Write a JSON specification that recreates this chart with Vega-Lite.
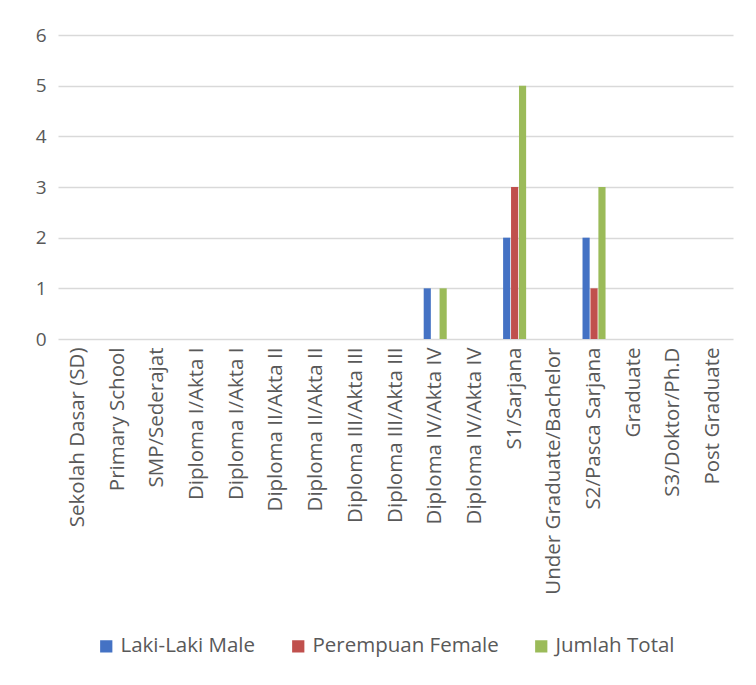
{
  "$schema": "https://vega.github.io/schema/vega-lite/v6.json",
  "autosize": "none",
  "width": 675,
  "height": 304,
  "padding": {"left": 58, "top": 35, "right": 23, "bottom": 346},
  "background": "white",
  "data": {
    "values": [
      {"cat": "Sekolah Dasar (SD)", "series": "Laki-Laki Male", "value": 0},
      {"cat": "Sekolah Dasar (SD)", "series": "Perempuan Female", "value": 0},
      {"cat": "Sekolah Dasar (SD)", "series": "Jumlah Total", "value": 0},
      {"cat": "Primary School", "series": "Laki-Laki Male", "value": 0},
      {"cat": "Primary School", "series": "Perempuan Female", "value": 0},
      {"cat": "Primary School", "series": "Jumlah Total", "value": 0},
      {"cat": "SMP/Sederajat", "series": "Laki-Laki Male", "value": 0},
      {"cat": "SMP/Sederajat", "series": "Perempuan Female", "value": 0},
      {"cat": "SMP/Sederajat", "series": "Jumlah Total", "value": 0},
      {"cat": "Diploma I/Akta I", "series": "Laki-Laki Male", "value": 0},
      {"cat": "Diploma I/Akta I", "series": "Perempuan Female", "value": 0},
      {"cat": "Diploma I/Akta I", "series": "Jumlah Total", "value": 0},
      {"cat": "Diploma I/Akta I ", "series": "Laki-Laki Male", "value": 0},
      {"cat": "Diploma I/Akta I ", "series": "Perempuan Female", "value": 0},
      {"cat": "Diploma I/Akta I ", "series": "Jumlah Total", "value": 0},
      {"cat": "Diploma II/Akta II", "series": "Laki-Laki Male", "value": 0},
      {"cat": "Diploma II/Akta II", "series": "Perempuan Female", "value": 0},
      {"cat": "Diploma II/Akta II", "series": "Jumlah Total", "value": 0},
      {"cat": "Diploma II/Akta II ", "series": "Laki-Laki Male", "value": 0},
      {"cat": "Diploma II/Akta II ", "series": "Perempuan Female", "value": 0},
      {"cat": "Diploma II/Akta II ", "series": "Jumlah Total", "value": 0},
      {"cat": "Diploma III/Akta III", "series": "Laki-Laki Male", "value": 0},
      {"cat": "Diploma III/Akta III", "series": "Perempuan Female", "value": 0},
      {"cat": "Diploma III/Akta III", "series": "Jumlah Total", "value": 0},
      {"cat": "Diploma III/Akta III ", "series": "Laki-Laki Male", "value": 0},
      {"cat": "Diploma III/Akta III ", "series": "Perempuan Female", "value": 0},
      {"cat": "Diploma III/Akta III ", "series": "Jumlah Total", "value": 0},
      {"cat": "Diploma IV/Akta IV", "series": "Laki-Laki Male", "value": 1},
      {"cat": "Diploma IV/Akta IV", "series": "Perempuan Female", "value": 0},
      {"cat": "Diploma IV/Akta IV", "series": "Jumlah Total", "value": 1},
      {"cat": "Diploma IV/Akta IV ", "series": "Laki-Laki Male", "value": 0},
      {"cat": "Diploma IV/Akta IV ", "series": "Perempuan Female", "value": 0},
      {"cat": "Diploma IV/Akta IV ", "series": "Jumlah Total", "value": 0},
      {"cat": "S1/Sarjana", "series": "Laki-Laki Male", "value": 2},
      {"cat": "S1/Sarjana", "series": "Perempuan Female", "value": 3},
      {"cat": "S1/Sarjana", "series": "Jumlah Total", "value": 5},
      {"cat": "Under Graduate/Bachelor", "series": "Laki-Laki Male", "value": 0},
      {"cat": "Under Graduate/Bachelor", "series": "Perempuan Female", "value": 0},
      {"cat": "Under Graduate/Bachelor", "series": "Jumlah Total", "value": 0},
      {"cat": "S2/Pasca Sarjana", "series": "Laki-Laki Male", "value": 2},
      {"cat": "S2/Pasca Sarjana", "series": "Perempuan Female", "value": 1},
      {"cat": "S2/Pasca Sarjana", "series": "Jumlah Total", "value": 3},
      {"cat": "Graduate", "series": "Laki-Laki Male", "value": 0},
      {"cat": "Graduate", "series": "Perempuan Female", "value": 0},
      {"cat": "Graduate", "series": "Jumlah Total", "value": 0},
      {"cat": "S3/Doktor/Ph.D", "series": "Laki-Laki Male", "value": 0},
      {"cat": "S3/Doktor/Ph.D", "series": "Perempuan Female", "value": 0},
      {"cat": "S3/Doktor/Ph.D", "series": "Jumlah Total", "value": 0},
      {"cat": "Post Graduate", "series": "Laki-Laki Male", "value": 0},
      {"cat": "Post Graduate", "series": "Perempuan Female", "value": 0},
      {"cat": "Post Graduate", "series": "Jumlah Total", "value": 0}
    ]
  },
  "mark": {"type": "bar"},
  "encoding": {
    "x": {
      "field": "cat",
      "type": "nominal",
      "sort": null,
      "scale": {"paddingInner": 0.42, "paddingOuter": 0.21},
      "axis": {
        "title": null,
        "labelAngle": -90,
        "labelAlign": "right",
        "labelBaseline": "middle",
        "labelPadding": 8,
        "ticks": false,
        "domain": false,
        "labelFont": "Open Sans",
        "labelFontSize": 20.5,
        "labelColor": "#595959",
        "labelLimit": 400,
        "labelOverlap": false
      }
    },
    "xOffset": {
      "field": "series",
      "type": "nominal",
      "sort": ["Laki-Laki Male", "Perempuan Female", "Jumlah Total"],
      "scale": {"paddingInner": 0.1}
    },
    "y": {
      "field": "value",
      "type": "quantitative",
      "scale": {"domain": [0, 6], "nice": false},
      "axis": {
        "title": null,
        "values": [0, 1, 2, 3, 4, 5, 6],
        "labelOverlap": false,
        "domain": false,
        "ticks": false,
        "labelPadding": 12,
        "labelFont": "Open Sans",
        "labelFontSize": 19,
        "labelColor": "#595959",
        "gridColor": "#d9d9d9",
        "gridWidth": 1.5
      }
    },
    "color": {
      "field": "series",
      "type": "nominal",
      "sort": ["Laki-Laki Male", "Perempuan Female", "Jumlah Total"],
      "scale": {
        "domain": ["Laki-Laki Male", "Perempuan Female", "Jumlah Total"],
        "range": ["#4472C4", "#C0504D", "#9BBB59"]
      },
      "legend": {
        "title": null,
        "orient": "none",
        "direction": "horizontal",
        "legendX": 38,
        "legendY": 601,
        "padding": 0,
        "symbolType": "square",
        "symbolSize": 150,
        "symbolStrokeWidth": 0,
        "labelFont": "Open Sans",
        "labelFontSize": 20.5,
        "labelColor": "#595959",
        "labelLimit": 400,
        "columnPadding": 32,
        "labelOffset": 4
      }
    }
  },
  "config": {
    "view": {"stroke": null}
  }
}
